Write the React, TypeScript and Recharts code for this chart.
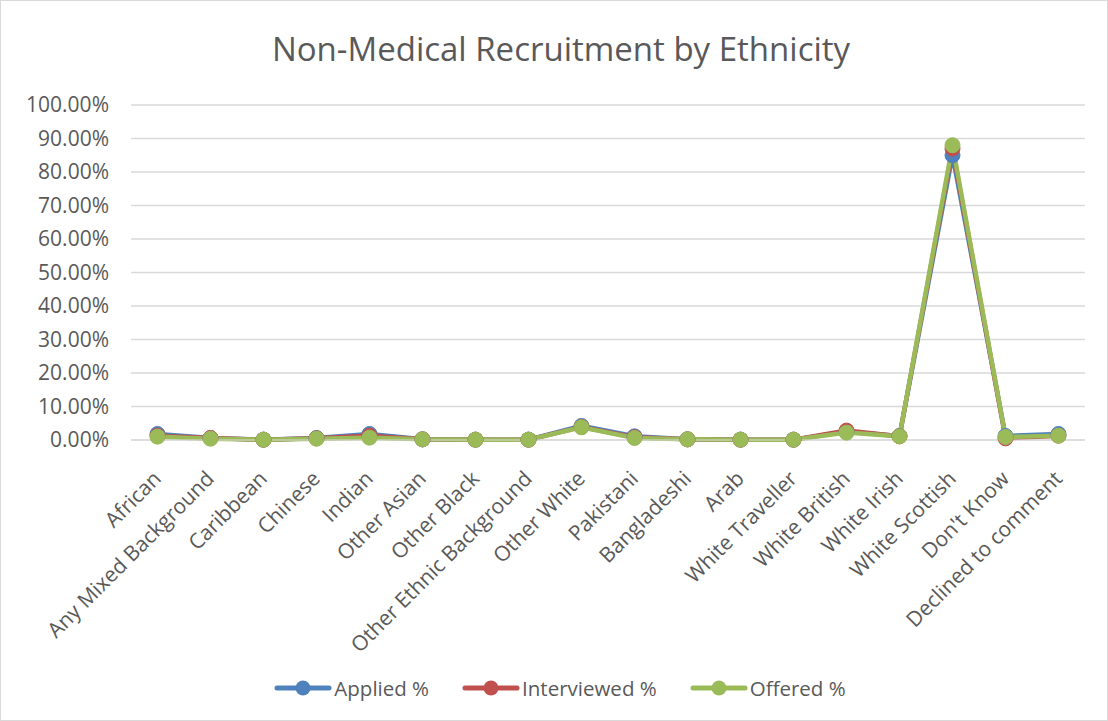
import { CartesianGrid, Legend, Line, LineChart, XAxis, YAxis } from "recharts";

const categories = [
  "African",
  "Any Mixed Background",
  "Caribbean",
  "Chinese",
  "Indian",
  "Other Asian",
  "Other Black",
  "Other Ethnic Background",
  "Other White",
  "Pakistani",
  "Bangladeshi",
  "Arab",
  "White Traveller",
  "White British",
  "White Irish",
  "White Scottish",
  "Don't Know",
  "Declined to comment",
];

const applied = [1.8, 0.6, 0.1, 0.6, 1.8, 0.2, 0.1, 0.1, 4.2, 1.1, 0.2, 0.1, 0.1, 2.5, 1.2, 85.0, 1.2, 1.8];
const interviewed = [1.3, 0.6, 0.1, 0.5, 1.3, 0.2, 0.1, 0.1, 3.9, 0.8, 0.2, 0.1, 0.1, 2.8, 1.1, 87.0, 0.5, 1.3];
const offered = [1.0, 0.4, 0.1, 0.4, 0.7, 0.2, 0.1, 0.1, 3.8, 0.6, 0.2, 0.1, 0.1, 2.2, 1.1, 88.0, 0.9, 1.3];

const yTicks = [0, 10, 20, 30, 40, 50, 60, 70, 80, 90, 100];

const font = "'Open Sans', sans-serif";
const textColor = "#595959";

function CategoryTick(props: any) {
  const { x, y, payload } = props;
  const ax = x;
  const ay = y + 27;
  return (
    <text
      x={ax}
      y={ay}
      dy={7}
      textAnchor="end"
      fill={textColor}
      fontSize={21}
      fontFamily={font}
      transform={`rotate(-45, ${ax}, ${ay})`}
    >
      {payload.value}
    </text>
  );
}

export default function App() {
  const data = categories.map((name, i) => ({
    name,
    applied: applied[i],
    interviewed: interviewed[i],
    offered: offered[i],
  }));

  return (
    <div
      style={{
        position: "absolute",
        left: 0,
        top: 0,
        width: 1106,
        height: 719,
        border: "1px solid #D9D9D9",
        background: "#fff",
        fontFamily: font,
      }}
    >
      <div
        style={{
          position: "absolute",
          top: 25,
          left: 0,
          width: 1120,
          textAlign: "center",
          fontSize: 33,
          color: textColor,
        }}
      >
        Non-Medical Recruitment by Ethnicity
      </div>
      <LineChart
        width={1106}
        height={719}
        data={data}
        margin={{ top: 104, right: 22, left: 10, bottom: 18 }}
      >
        <CartesianGrid vertical={false} stroke="#D9D9D9" strokeWidth={1.3} />
        <XAxis
          dataKey="name"
          interval={0}
          tickLine={false}
          axisLine={{ stroke: "#D9D9D9" }}
          tick={<CategoryTick />}
          height={234}
          padding={{ left: 26.5, right: 26.5 }}
        />
        <YAxis
          domain={[0, 100]}
          ticks={yTicks}
          interval={0}
          tickLine={false}
          axisLine={false}
          tickSize={0}
          tickMargin={22}
          width={120}
          tickFormatter={(v: number) => `${v.toFixed(2)}%`}
          tick={{ fill: textColor, fontSize: 21, fontFamily: font }}
        />
        <Legend
          verticalAlign="bottom"
          content={() => (
            <div style={{ display: "flex", justifyContent: "center", gap: 33, color: textColor, fontSize: 20.5, fontFamily: font, paddingLeft: 24 }}>
              {[
                ["Applied %", "#4F81BD"],
                ["Interviewed %", "#C0504D"],
                ["Offered %", "#9BBB59"],
              ].map(([label, color]) => (
                <span key={label} style={{ display: "flex", alignItems: "center" }}>
                  <svg width={58} height={18} style={{ marginRight: 2 }}>
                    <line x1={3} y1={9} x2={55} y2={9} stroke={color} strokeWidth={5} strokeLinecap="round" />
                    <circle cx={29} cy={9} r={7.5} fill={color} />
                  </svg>
                  {label}
                </span>
              ))}
            </div>
          )}
        />
        <Line
          type="linear"
          dataKey="applied"
          name="Applied %"
          stroke="#4F81BD"
          strokeWidth={4.5}
          dot={{ r: 7.5, fill: "#4F81BD", stroke: "#4F81BD", strokeWidth: 1 }}
          isAnimationActive={false}
        />
        <Line
          type="linear"
          dataKey="interviewed"
          name="Interviewed %"
          stroke="#C0504D"
          strokeWidth={4.5}
          dot={{ r: 7.5, fill: "#C0504D", stroke: "#C0504D", strokeWidth: 1 }}
          isAnimationActive={false}
        />
        <Line
          type="linear"
          dataKey="offered"
          name="Offered %"
          stroke="#9BBB59"
          strokeWidth={4.5}
          dot={{ r: 7.5, fill: "#9BBB59", stroke: "#9BBB59", strokeWidth: 1 }}
          isAnimationActive={false}
        />
      </LineChart>
    </div>
  );
}
